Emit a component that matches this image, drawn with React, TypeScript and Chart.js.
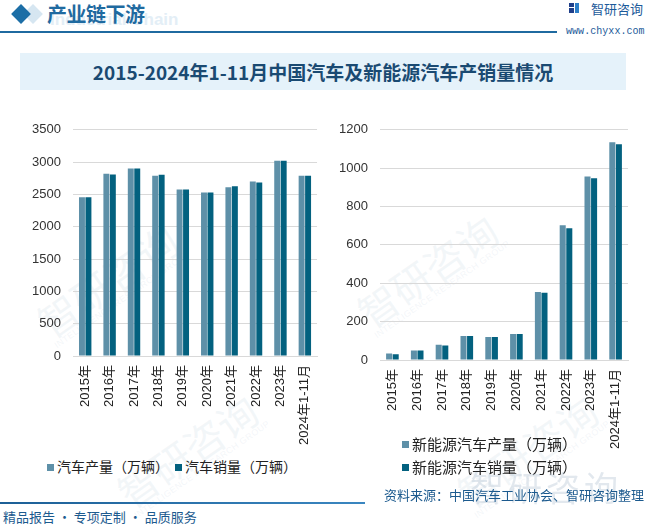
import React, { useEffect, useRef } from "react";
import { Chart, registerables } from "chart.js";

Chart.register(...registerables);

const categories = ["2015年", "2016年", "2017年", "2018年", "2019年", "2020年", "2021年", "2022年", "2023年", "2024年1-11月"];
const autoProduction = [2455, 2820, 2900, 2790, 2575, 2530, 2610, 2700, 3020, 2790];
const autoSales = [2455, 2810, 2900, 2805, 2575, 2530, 2625, 2685, 3020, 2790];
const nevProduction = [34, 50, 79, 125, 120, 135, 355, 702, 957, 1135];
const nevSales = [30, 50, 75, 125, 120, 135, 350, 687, 947, 1125];

const autoLegend = ["汽车产量（万辆）", "汽车销量（万辆）"];
const nevLegend = ["新能源汽车产量（万辆）", "新能源汽车销量（万辆）"];

const LIGHT = "#5e90a8";
const DARK = "#03617f";
const FONT = "'Liberation Sans', Arial, 'Noto Sans CJK SC', sans-serif";
const CJK = "'Noto Sans CJK SC', 'Liberation Sans', sans-serif";

type BarProps = {
  a: number[];
  b: number[];
  max: number;
  step: number;
  yWidth: number;
  padding: { top: number; right: number; left: number; bottom: number };
  style: React.CSSProperties;
  width: number;
  height: number;
};

function BarChart({ a, b, max, step, yWidth, padding, style, width, height }: BarProps) {
  const ref = useRef<HTMLCanvasElement | null>(null);
  useEffect(() => {
    if (!ref.current) return;
    const chart = new Chart(ref.current, {
      type: "bar",
      data: {
        labels: categories,
        datasets: [
          { data: a, backgroundColor: LIGHT, barPercentage: 0.92, categoryPercentage: 0.53 },
          { data: b, backgroundColor: DARK, barPercentage: 0.92, categoryPercentage: 0.53 },
        ],
      },
      options: {
        animation: false,
        responsive: false,
        maintainAspectRatio: false,
        layout: { padding },
        plugins: { legend: { display: false }, tooltip: { enabled: false } },
        scales: {
          x: {
            grid: { display: false, drawTicks: false },
            border: { display: true, color: "#d9d9d9" },
            ticks: {
              autoSkip: false,
              minRotation: 90,
              maxRotation: 90,
              padding: 9,
              color: "#222",
              font: { family: FONT, size: 13 },
            },
            afterFit: (s: any) => {
              s.height = 100;
            },
          },
          y: {
            min: 0,
            max,
            grid: { color: "#d9d9d9", drawTicks: false },
            border: { display: false },
            ticks: {
              stepSize: step,
              padding: 12,
              color: "#333",
              font: { family: FONT, size: 13 },
              callback: (v: any) => String(v),
            },
            afterFit: (s: any) => {
              s.width = yWidth;
            },
          },
        },
      },
    });
    return () => chart.destroy();
  }, []);
  return (
    <canvas
      ref={ref}
      width={width}
      height={height}
      style={{ position: "absolute", width, height, ...style }}
    />
  );
}

function Swatch({ color, size }: { color: string; size: number }) {
  return (
    <span
      style={{
        display: "inline-block",
        width: size,
        height: size,
        background: color,
        marginRight: 3,
        verticalAlign: "middle",
        position: "relative",
        top: -1,
      }}
    />
  );
}

function Watermark({ x, y, rot, size }: { x: number; y: number; rot: number; size: number }) {
  return (
    <div
      style={{
        position: "absolute",
        left: x,
        top: y,
        transform: `rotate(${rot}deg)`,
        transformOrigin: "left top",
        color: "rgba(200,214,226,0.22)",
        fontFamily: CJK,
        fontSize: size,
        whiteSpace: "nowrap",
        lineHeight: 1,
        pointerEvents: "none",
      }}
    >
      智研咨询
      <div style={{ fontSize: size * 0.22, fontFamily: FONT, letterSpacing: 0.5 }}>INTELLIGENCE RESEARCH GROUP</div>
    </div>
  );
}

export default function App() {
  return (
    <div
      style={{
        position: "fixed",
        left: 0,
        top: 0,
        width: 647,
        height: 525,
        background: "#fff",
        overflow: "hidden",
        fontFamily: CJK,
      }}
    >
      {/* watermarks */}
      <Watermark x={30} y={310} rot={-35} size={40} />
      <Watermark x={350} y={300} rot={-35} size={40} />
      <Watermark x={110} y={480} rot={-35} size={40} />
      <Watermark x={450} y={480} rot={-35} size={40} />

      {/* header */}
      <div style={{ position: "absolute", left: 26, top: 7, width: 14, height: 14, background: "#d6e6f1", transform: "rotate(45deg)" }} />
      <div style={{ position: "absolute", left: 14, top: 7, width: 14, height: 14, background: "#1c6ea6", transform: "rotate(45deg)" }} />
      <div
        style={{
          position: "absolute",
          left: 50,
          top: 10,
          fontFamily: "'Liberation Sans', Arial, sans-serif",
          fontWeight: 700,
          fontSize: 17,
          color: "#e3eef6",
          whiteSpace: "nowrap",
        }}
      >
        Industrial Chain
      </div>
      <div
        style={{
          position: "absolute",
          left: 47,
          top: -1,
          fontFamily: CJK,
          fontWeight: 700,
          fontSize: 20,
          color: "#1f6aa0",
          whiteSpace: "nowrap",
          letterSpacing: -0.5,
        }}
      >
        产业链下游
      </div>
      <div style={{ position: "absolute", left: 0, top: 31, width: 557, height: 2, background: "#1f6aa0" }} />
      {/* logo */}
      <div style={{ position: "absolute", left: 569, top: 3, width: 5, height: 4, background: "#1f3f8a" }} />
      <div style={{ position: "absolute", left: 569, top: 8, width: 5, height: 5, background: "#1f3f8a" }} />
      <div style={{ position: "absolute", left: 575, top: 3, width: 4, height: 10, background: "#2d7fc8" }} />
      <div
        style={{
          position: "absolute",
          left: 591,
          top: 1,
          fontFamily: CJK,
          fontSize: 13,
          color: "#1c5a9a",
          whiteSpace: "nowrap",
          lineHeight: "16px",
        }}
      >
        智研咨询
      </div>
      <div
        style={{
          position: "absolute",
          left: 566,
          top: 26,
          fontFamily: "'Liberation Mono', monospace",
          fontSize: 10,
          color: "#1c5a9a",
          whiteSpace: "nowrap",
          letterSpacing: 0.05,
        }}
      >
        www.chyxx.com
      </div>

      {/* title */}
      <div
        style={{
          position: "absolute",
          left: 20,
          top: 53,
          width: 606,
          height: 37,
          background: "#e5f2fa",
          display: "flex",
          alignItems: "center",
          justifyContent: "center",
          fontFamily: CJK,
          fontWeight: 700,
          fontSize: 19,
          color: "#1a4a72",
          whiteSpace: "nowrap",
        }}
      >
        2015-2024年1-11月中国汽车及新能源汽车产销量情况
      </div>

      {/* charts */}
      <BarChart
        a={autoProduction}
        b={autoSales}
        max={3500}
        step={500}
        yWidth={73}
        padding={{ top: 17, right: 11, left: 0, bottom: 0 }}
        style={{ left: 0, top: 110 }}
        width={330}
        height={346}
      />
      <BarChart
        a={nevProduction}
        b={nevSales}
        max={1200}
        step={200}
        yWidth={50}
        padding={{ top: 14, right: 19, left: 0, bottom: 0 }}
        style={{ left: 330, top: 110 }}
        width={317}
        height={350}
      />

      {/* legends */}
      <div
        style={{
          position: "absolute",
          left: 47,
          top: 457,
          fontFamily: CJK,
          fontSize: 14,
          color: "#222",
          whiteSpace: "nowrap",
          lineHeight: "18px",
        }}
      >
        <Swatch color={LIGHT} size={7} />
        {autoLegend[0]}
        <span style={{ marginLeft: 6 }} />
        <Swatch color={DARK} size={7} />
        {autoLegend[1]}
      </div>
      <div
        style={{
          position: "absolute",
          left: 402,
          top: 432,
          fontFamily: CJK,
          fontSize: 15,
          color: "#222",
          whiteSpace: "nowrap",
          lineHeight: "23px",
        }}
      >
        <div>
          <Swatch color={LIGHT} size={7} />
          {nevLegend[0]}
        </div>
        <div>
          <Swatch color={DARK} size={7} />
          {nevLegend[1]}
        </div>
      </div>

      {/* footer */}
      <div
        style={{
          position: "absolute",
          left: 470,
          top: 462,
          fontFamily: CJK,
          fontSize: 34,
          color: "rgba(190,205,218,0.45)",
          whiteSpace: "nowrap",
          letterSpacing: 4,
        }}
      >
        智研咨询
      </div>
      <div
        style={{
          position: "absolute",
          left: 0,
          top: 502,
          width: 365,
          height: 2,
          background: "linear-gradient(to right, #1c5f96, #3a86c0)",
        }}
      />
      <div
        style={{
          position: "absolute",
          right: 3,
          top: 486,
          fontFamily: CJK,
          fontSize: 13,
          color: "#1c5a8e",
          whiteSpace: "nowrap",
          lineHeight: "18px",
        }}
      >
        资料来源：中国汽车工业协会、智研咨询整理
      </div>
      <div
        style={{
          position: "absolute",
          left: 3,
          top: 508,
          fontFamily: CJK,
          fontSize: 13,
          color: "#1c5a8e",
          whiteSpace: "nowrap",
          lineHeight: "18px",
        }}
      >
        精品报告 · 专项定制 · 品质服务
      </div>
    </div>
  );
}
